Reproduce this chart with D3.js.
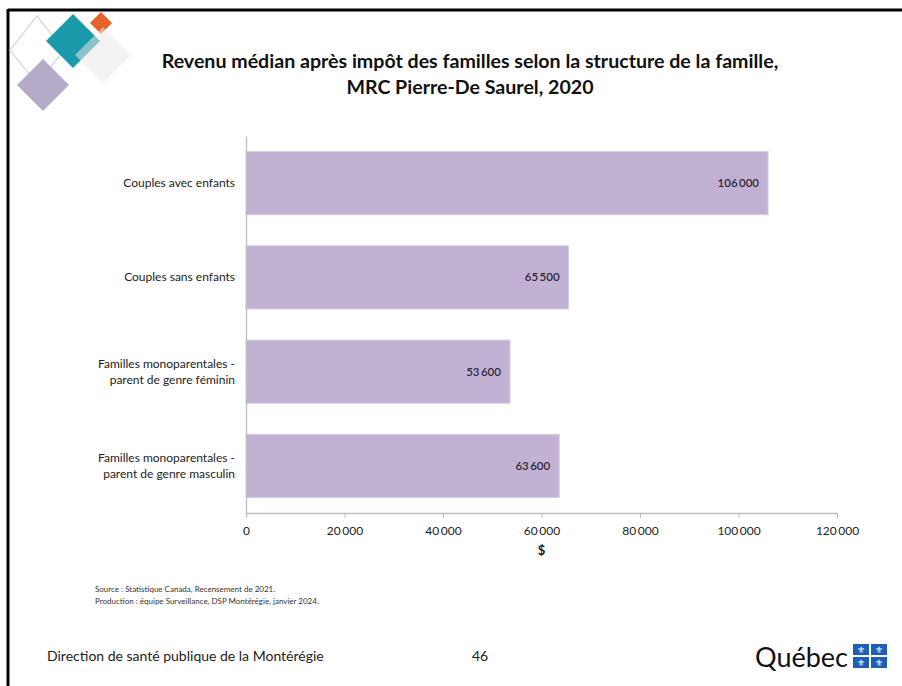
<!DOCTYPE html>
<html><head><meta charset="utf-8">
<script src="https://cdn.jsdelivr.net/npm/d3@7"></script>
<style>body{margin:0;background:#fff}svg{display:block}text{font-family:Lato,"Open Sans",sans-serif}</style>
</head><body><svg id="c" width="902" height="686"></svg>
<script>
const categories = [
  ["Couples avec enfants"],
  ["Couples sans enfants"],
  ["Familles monoparentales -", "parent de genre féminin"],
  ["Familles monoparentales -", "parent de genre masculin"]
];
const values = [106000, 65500, 53600, 63600];
const tickValues = [0, 20000, 40000, 60000, 80000, 100000, 120000];
const titleLines = ["Revenu médian après impôt des familles selon la structure de la famille,", "MRC Pierre-De Saurel, 2020"];

const svg = d3.select("#c");
const loc = d3.formatLocale({decimal: ",", thousands: "\u2009", grouping: [3], currency: ["", " $"]});
const fmt = loc.format(",d");

// slide frame
svg.append("line").attr("x1", 8).attr("x2", 902).attr("y1", 10).attr("y2", 10).attr("stroke", "#000").attr("stroke-width", 3);
svg.append("line").attr("x1", 8).attr("x2", 8).attr("y1", 9).attr("y2", 686).attr("stroke", "#000").attr("stroke-width", 3);

// logo diamonds
function diamond(cx, cy, rx, ry) { ry = ry || rx; return `M${cx},${cy-ry}L${cx+rx},${cy}L${cx},${cy+ry}L${cx-rx},${cy}Z`; }
const lg = svg.append("g");
lg.append("path").attr("d", diamond(37, 50, 27, 34)).attr("fill", "none").attr("stroke", "#d9ded6").attr("stroke-width", 1.5);
lg.append("path").attr("d", diamond(73, 41, 27)).attr("fill", "#1a9aaa");
lg.append("path").attr("d", diamond(101, 23, 11)).attr("fill", "#e5622a");
lg.append("path").attr("d", diamond(103, 55, 28)).attr("fill", "#ebe8e8").attr("opacity", 0.55);
lg.append("path").attr("d", diamond(43, 85, 26)).attr("fill", "#b5abc9");

// title
svg.append("g").selectAll("text").data(titleLines).join("text")
  .attr("x", 470).attr("y", (d, i) => 68 + i * 26)
  .attr("text-anchor", "middle").attr("font-size", 19.6).attr("font-weight", 700).attr("fill", "#111")
  .text(d => d);

const x = d3.scaleLinear().domain([0, 120000]).range([246, 837]);
const y = d3.scaleBand().domain(d3.range(values.length)).range([136, 513]).paddingInner(0.33).paddingOuter(0.165);

// bars
svg.append("g").selectAll("rect").data(values).join("rect")
  .attr("x", x(0)).attr("y", (d, i) => y(i)).attr("width", d => x(d) - x(0)).attr("height", y.bandwidth())
  .attr("fill", "#c1b2d4").attr("stroke", "#d6cce2").attr("stroke-width", 1);

// value labels
svg.append("g").selectAll("text").data(values).join("text")
  .attr("x", d => x(d) - 9).attr("y", (d, i) => y(i) + y.bandwidth() / 2 + 4)
  .attr("text-anchor", "end").attr("font-size", 11.5).attr("font-weight", 600).attr("fill", "#2f2838")
  .text(d => fmt(d));

// axes
const xAxis = d3.axisBottom(x).tickValues(tickValues).tickFormat(fmt).tickSize(5).tickPadding(8);
const gx = svg.append("g").attr("transform", "translate(0,513)").call(xAxis);
gx.select(".domain").attr("stroke", "#bdbdbd").attr("stroke-width", 1.3);
gx.selectAll(".tick line").attr("stroke", "#bdbdbd");
gx.selectAll(".tick text").attr("font-size", 12).attr("fill", "#222").attr("font-family", "Lato,sans-serif");

const yAxis = d3.axisLeft(y).tickSize(0).tickFormat("");
const gy = svg.append("g").attr("transform", `translate(${x(0)},0)`).call(yAxis);
gy.select(".domain").attr("stroke", "#bdbdbd").attr("stroke-width", 1.3);

// category labels
const cg = svg.append("g");
categories.forEach((lines, i) => {
  const cy = y(i) + y.bandwidth() / 2;
  lines.forEach((t, j) => {
    cg.append("text").attr("x", 235).attr("y", cy + 4 + (j - (lines.length - 1) / 2) * 16)
      .attr("text-anchor", "end").attr("font-size", 12).attr("fill", "#222").text(t);
  });
});

// axis title
svg.append("text").attr("x", x(60000)).attr("y", 555).attr("text-anchor", "middle")
  .attr("font-size", 13).attr("font-weight", 700).attr("fill", "#222").text("$");

// source
svg.append("text").attr("x", 95).attr("y", 592).attr("font-size", 8).attr("fill", "#333").text("Source : Statistique Canada,  Recensement de 2021.");
svg.append("text").attr("x", 95).attr("y", 604).attr("font-size", 8).attr("fill", "#333").text("Production : équipe Surveillance, DSP Montérégie, janvier 2024.");

// footer
svg.append("text").attr("x", 47).attr("y", 661).attr("font-size", 14).attr("fill", "#222").text("Direction de santé publique de la Montérégie");
svg.append("text").attr("x", 472).attr("y", 661).attr("font-size", 14).attr("fill", "#222").text("46");

// Québec logo
svg.append("text").attr("x", 755).attr("y", 667).attr("font-size", 27).attr("fill", "#111").attr("font-family", "'Open Sans',sans-serif").text("Québec");
const fl = svg.append("g").attr("transform", "translate(853,644)");
[[0,0],[18,0],[0,13],[18,13]].forEach(([dx, dy]) => {
  fl.append("rect").attr("x", dx).attr("y", dy).attr("width", 16).attr("height", 11).attr("fill", "#1f5fb3");
  fl.append("text").attr("x", dx + 8).attr("y", dy + 9).attr("text-anchor", "middle").attr("font-size", 9).attr("fill", "#fff").attr("font-family", "DejaVu Sans").text("\u269C");
});
</script></body></html>
